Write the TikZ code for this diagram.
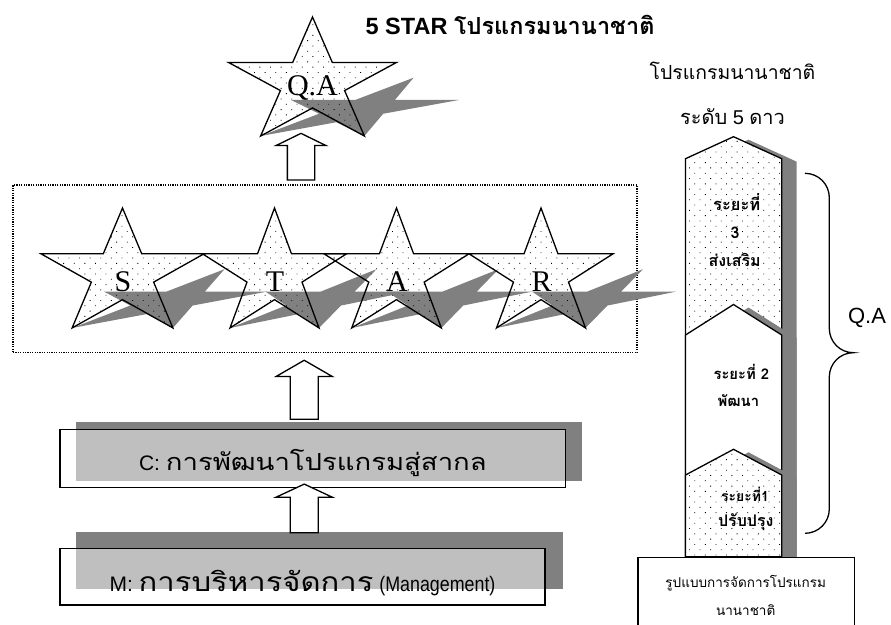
\documentclass[tikz,border=0pt]{standalone}
\usepackage{fontspec}
\setmainfont{Liberation Sans}
\newfontfamily\thaifont[Script=Thai]{Loma}
\newfontfamily\thaiwide[Script=Thai, FakeStretch=1.17]{Loma}
\newfontfamily\narrowfont[FakeStretch=0.85]{Liberation Sans}
\newfontfamily\starfont{Liberation Serif}
\usetikzlibrary{shapes.arrows, patterns.meta, backgrounds}
\definecolor{shadowgray}{HTML}{808080}
\newcommand{\fsize}[1]{\fontsize{#1}{#1}\selectfont}
\newcommand{\thai}[2]{{\thaifont\fsize{#1}#2}}
\newcommand{\starpath}{(90:1) -- (126:.382) -- (162:1) -- (198:.382) -- (234:1) -- (270:.382) -- (306:1) -- (342:.382) -- (18:1) -- (54:.382) -- cycle}
\newcommand{\house}[2]{(685.5,#2) -- (733.5,#1) -- (781.7,#2) -- (781.7,556.7) -- (685.5,556.7) -- cycle}

\begin{document}
\begin{tikzpicture}[
  x=1pt, y=-1pt, line width=1.3pt,
  every node/.style={inner sep=0pt},
  dotfill/.style={pattern={Dots[radius=.6pt, distance=7.5pt, angle=45]}, pattern color=black},
  starlbl/.style={anchor=base, font=\starfont\fsize{30}},
  upblock/.style={single arrow, draw, fill=white, rotate=90, inner xsep=0pt, inner ysep=13.35pt, single arrow head extend=14.2pt},
  mainbox/.style={draw, fill=white, fill opacity=.5, text opacity=1, text depth=0pt, font=\fsize{21}},
  dotstage/.style={draw, preaction={fill=white}, dotfill},
  plainstage/.style={draw, fill=white},
  stagelbl/.style={anchor=base, font=\thaifont\bfseries\fsize{14}},
  sidelbl/.style={anchor=base, font=\fsize{20}}
]
\useasboundingbox (0,0) rectangle (891,624);

% Top star
\begin{scope}[shift={(312.5,136)}, cm={1,0,.85,.49,(0,0)}, shift={(0,-53.2)}, xscale=88.3, yscale=-65.8]
  \fill[shadowgray] \starpath;
\end{scope}
\begin{scope}[shift={(312.5,82.8)}, xscale=88.3, yscale=-65.8]
  \path[dotfill] \starpath;
  \draw \starpath;
\end{scope}
\node[starlbl] (starQA) at (312.5,95) {Q.A};
\node[anchor=base west, font=\bfseries\fsize{23.5}] (title) at (365,34.3) {5 STAR \thai{23.5}{โปรแกรมนานาชาติ}};

% S T A R
\node[draw, dash pattern=on 1.2pt off 1.2pt, line width=1.2pt, minimum width=624pt, minimum height=167.7pt] (starframe) at (325,268.9) {};
\foreach \cx/\W/\lbl in {122.5/81.5/S, 274.5/72/T, 396.5/72.5/A, 541/72/R} {
  \pgfmathsetmacro\sx{\W/0.951}
  \begin{scope}[shift={(\cx,328)}, cm={1,0,.85,.49,(0,0)}, shift={(0,-53.7)}, xscale=\sx, yscale=-66.3]
    \fill[shadowgray] \starpath;
  \end{scope}
  \begin{scope}[shift={(\cx,274.3)}, xscale=\sx, yscale=-66.3]
    \path[dotfill] \starpath;
    \draw \starpath;
  \end{scope}
  \node[starlbl] (star\lbl) at (\cx+0.5,291.7) {\lbl};
}

% Boxes
\node[mainbox, minimum width=505.7pt, minimum height=58.4pt, text height=23pt] (cbox) at (312.9,458.5) {C: {\thaiwide\fsize{23.5}การพัฒนาโปรแกรมสู่สากล}};
\node[mainbox, minimum width=485pt, minimum height=56.7pt, text height=30pt] (mbox) at (302.5,576.7) {M: {\thaiwide\fsize{26.5}การบริหารจัดการ} {\narrowfont(Management)}};
\begin{scope}[on background layer]
  \fill[shadowgray] ([shift={(17,-7)}]cbox.south west) rectangle ([shift={(16,-7)}]cbox.north east);
  \fill[shadowgray] ([shift={(17,-16.7)}]mbox.south west) rectangle ([shift={(17.3,-15.6)}]mbox.north east);
\end{scope}

% Block arrows
\node[upblock, minimum height=46.6pt, inner ysep=13pt, single arrow head extend=11.2pt, single arrow tip angle=128] (arrtop) at (301,160) {};
\node[upblock, minimum height=59pt, single arrow tip angle=120] (arrmid) at (304.2,393.8) {};
\node[upblock, minimum height=48.7pt, single arrow tip angle=130] (arrlow) at (304.2,511.7) {};

% Column
\node[sidelbl] (intl) at (732.5,79) {\thai{19.4}{โปรแกรมนานาชาติ}};
\node[sidelbl] (level) at (732.5,124) {\thai{20}{ระดับ} 5 \thai{20}{ดาว}};
\fill[shadowgray, shift={(15,3)}] \house{136.7}{158.7};
\path[dotstage] \house{136.7}{158.7};
\fill[shadowgray, shift={(15,3)}] \house{304.5}{335};
\path[plainstage] \house{304.5}{335};
\fill[shadowgray, shift={(15,3)}] \house{449.3}{475};
\path[dotstage] \house{449.3}{475};
\node[draw, fill=white, anchor=north west, minimum width=216.7pt, minimum height=75pt] (basebox) at (637.3,556.7) {};

\node[stagelbl, font=\thaifont\bfseries\fsize{16.5}] (st3a) at (736.7,210) {ระยะที่};
\node[stagelbl, font=\thaifont\bfseries\fsize{16}] (st3b) at (735,238.3) {3};
\node[stagelbl, font=\thaifont\bfseries\fsize{16}] (st3c) at (734.7,266) {ส่งเสริม};
\node[stagelbl, font=\thaifont\bfseries\fsize{14.8}] (st2a) at (741.3,379.3) {ระยะที่ 2};
\node[stagelbl, font=\thaifont\bfseries\fsize{14.8}] (st2b) at (738.3,406.7) {พัฒนา};
\node[stagelbl] (st1a) at (745,501.7) {ระยะที่1};
\node[stagelbl, font=\thaifont\bfseries\fsize{16}] (st1b) at (745.8,526) {ปรับปรุง};
\node[anchor=base, font=\thaifont\fsize{13.5}] (base1) at (745.7,587.3) {รูปแบบการจัดการโปรแกรม};
\node[anchor=base, font=\thaifont\fsize{13.5}] (base2) at (745.7,615) {นานาชาติ};

% Brace
\draw (805,173.3) .. controls (818.4,173.3) and (829.3,184.2) .. (829.3,197.6)
  -- (829.3,328.4) .. controls (829.3,341.8) and (840,352.7) .. (853.3,352.7)
  .. controls (840,352.7) and (829.3,363.6) .. (829.3,377)
  -- (829.3,509) .. controls (829.3,522.4) and (818.4,533.3) .. (805,533.3);
\node[anchor=base, font=\fsize{22}] (qalbl) at (867,323.3) {Q.A};
\end{tikzpicture}
\end{document}
